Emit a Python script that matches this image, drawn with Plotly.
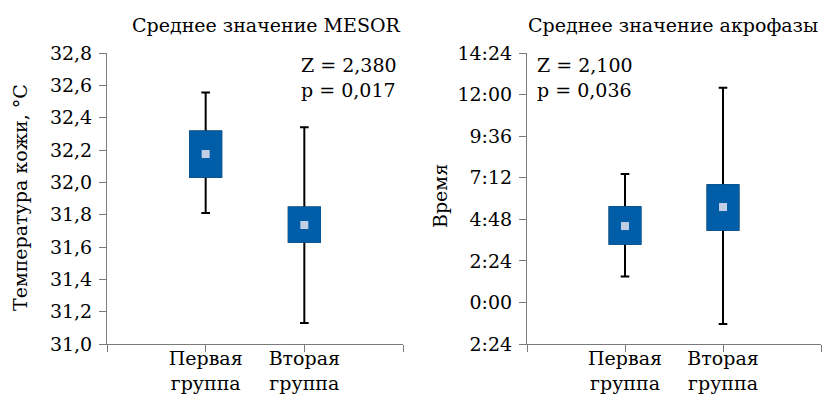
import plotly.graph_objects as go

# ---- data ----
categories = ["Первая<br>группа", "Вторая<br>группа"]

# MESOR, skin temperature (°C)
mesor_whisker_low = [31.81, 31.13]
mesor_box_low = [32.035, 31.633]
mesor_mean = [32.175, 31.736]
mesor_box_high = [32.315, 31.845]
mesor_whisker_high = [32.555, 32.34]

# Acrophase, hours
acro_whisker_low = [1.49, -1.245]
acro_box_low = [3.39, 4.20]
acro_mean = [4.41, 5.51]
acro_box_high = [5.49, 6.76]
acro_whisker_high = [7.415, 12.40]

mesor_ticks = [31.0, 31.2, 31.4, 31.6, 31.8, 32.0, 32.2, 32.4, 32.6, 32.8]
acro_tickvals = [-2.4, 0.0, 2.4, 4.8, 7.2, 9.6, 12.0, 14.4]
acro_ticktext = ["2:24", "0:00", "2:24", "4:48", "7:12", "9:36", "12:00", "14:24"]

titles = ["Среднее значение MESOR", "Среднее значение акрофазы"]
ytitles = ["Температура кожи, °C", "Время"]
stats_text = ["Z = 2,380<br>p = 0,017", "Z = 2,100<br>p = 0,036"]

BOX_COLOR = "#005EA8"
MEAN_COLOR = "#C2CDE6"
AXIS_COLOR = "#7a7a7a"
FONT = "DejaVu Serif"
TICK_SIZE = 19
TEXT_SIZE = 19
W, H = 822, 395

xpos = [i + 1 for i in range(len(categories))]

fig = go.Figure()

def add_group(xa, ya, wl, bl, mn, bh, wh):
    for i, x in enumerate(xpos):
        # whiskers (black)
        fig.add_trace(go.Box(
            x=[x], q1=[bl[i]], median=[mn[i]], q3=[bh[i]],
            lowerfence=[wl[i]], upperfence=[wh[i]],
            width=0.315, whiskerwidth=0.28,
            line=dict(color="black", width=2), fillcolor=BOX_COLOR,
            boxpoints=False, xaxis=xa, yaxis=ya, showlegend=False, hoverinfo="skip"))
        # blue box covering outline
        fig.add_trace(go.Box(
            x=[x], q1=[bl[i]], median=[mn[i]], q3=[bh[i]],
            lowerfence=[bl[i]], upperfence=[bh[i]],
            width=0.315, whiskerwidth=0,
            line=dict(color=BOX_COLOR, width=2), fillcolor=BOX_COLOR,
            boxpoints=False, xaxis=xa, yaxis=ya, showlegend=False, hoverinfo="skip"))
    fig.add_trace(go.Scatter(
        x=xpos, y=mn, mode="markers",
        marker=dict(symbol="square", size=8, color=MEAN_COLOR, line=dict(width=0)),
        xaxis=xa, yaxis=ya, showlegend=False, hoverinfo="skip"))

add_group("x", "y", mesor_whisker_low, mesor_box_low, mesor_mean, mesor_box_high, mesor_whisker_high)
add_group("x2", "y2", acro_whisker_low, acro_box_low, acro_mean, acro_box_high, acro_whisker_high)

ydom = [1 - 344 / H, 1 - 53 / H]

xaxis_common = dict(
    range=[0, 3], tickmode="array", tickvals=[0, 1, 2, 3],
    ticktext=[""] + categories + [""],
    ticks="outside", ticklen=7, tickwidth=1, tickcolor=AXIS_COLOR,
    showline=True, linecolor=AXIS_COLOR, linewidth=1,
    showgrid=False, zeroline=False, fixedrange=True, automargin=False,
    ticklabelstandoff=-10,
    tickfont=dict(family=FONT, size=TICK_SIZE, color="black"),
)
yaxis_common = dict(
    ticks="outside", ticklen=7, tickwidth=1, tickcolor=AXIS_COLOR,
    showline=True, linecolor=AXIS_COLOR, linewidth=1,
    showgrid=False, zeroline=False, fixedrange=True, automargin=False,
    ticklabelstandoff=3,
    tickfont=dict(family=FONT, size=TICK_SIZE, color="black"),
)

fig.update_layout(
    width=W, height=H, autosize=False,
    margin=dict(l=0, r=0, t=0, b=0, autoexpand=False),
    paper_bgcolor="white", plot_bgcolor="white",
    separators=", ",
    boxmode="overlay",
    font=dict(family=FONT, size=TEXT_SIZE, color="black"),
    xaxis=dict(domain=[107 / W, 403 / W], anchor="y", **xaxis_common),
    xaxis2=dict(domain=[527 / W, 821 / W], anchor="y2", **xaxis_common),
    yaxis=dict(domain=ydom, anchor="x", range=[31.0, 32.8], tickmode="array",
               tickvals=mesor_ticks, tickformat=".1f", **yaxis_common),
    yaxis2=dict(domain=ydom, anchor="x2", range=[-2.4, 14.4], tickmode="array",
                tickvals=acro_tickvals, ticktext=acro_ticktext, **yaxis_common),
)

ann = []
ann.append(dict(text=titles[0], x=266 / W, y=1 - 25 / H, xref="paper", yref="paper",
                xanchor="center", yanchor="middle", showarrow=False))
ann.append(dict(text=titles[1], x=673 / W, y=1 - 25 / H, xref="paper", yref="paper",
                xanchor="center", yanchor="middle", showarrow=False))
ann.append(dict(text=ytitles[0], x=20 / W, y=1 - 198 / H, xref="paper", yref="paper",
                xanchor="center", yanchor="middle", textangle=-90, showarrow=False))
ann.append(dict(text=ytitles[1], x=440 / W, y=1 - 196 / H, xref="paper", yref="paper",
                xanchor="center", yanchor="middle", textangle=-90, showarrow=False))
ann.append(dict(text=stats_text[0], x=299 / W, y=1 - 78 / H, xref="paper", yref="paper",
                xanchor="left", yanchor="middle", align="left", showarrow=False))
ann.append(dict(text=stats_text[1], x=535 / W, y=1 - 78 / H, xref="paper", yref="paper",
                xanchor="left", yanchor="middle", align="left", showarrow=False))
fig.update_layout(annotations=ann)

fig.write_html("out.html", config={"displayModeBar": False},
               post_script="document.body.style.margin='0';")
